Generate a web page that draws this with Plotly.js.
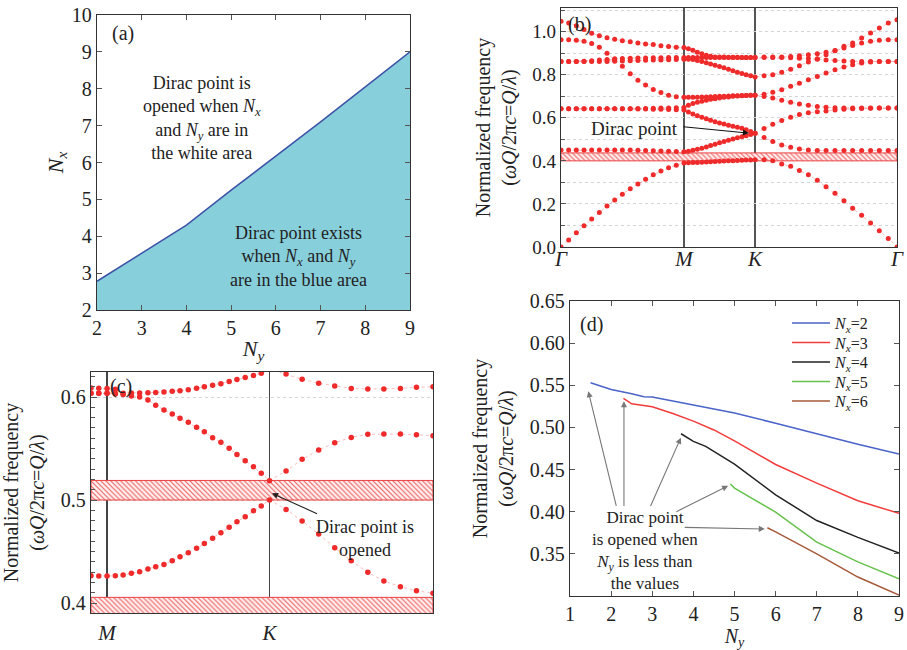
<!DOCTYPE html>
<html><head><meta charset="utf-8">
<script src="https://cdn.plot.ly/plotly-3.0.1.min.js"></script>
<style>html,body{margin:0;padding:0;background:#fff}#chart{width:907px;height:650px}</style>
</head><body><div id="chart"></div>
<script>
// ---------- (a) phase boundary ----------
const nyA = [2, 3, 4, 5, 6, 7, 8, 9];
const nxA = [2.78, 3.55, 4.3, 5.25, 6.17, 7.1, 8.05, 9.0];

// ---------- (b) band structure along Γ-M-K-Γ ----------
const kPath = [0, 0.036, 0.072, 0.108, 0.144, 0.180, 0.216, 0.252, 0.288, 0.325, 0.361, 0.397, 0.433, 0.469, 0.505, 0.541, 0.577,
  0.598, 0.619, 0.640, 0.661, 0.682, 0.702, 0.723, 0.744, 0.765, 0.786, 0.807, 0.828, 0.849, 0.869, 0.890, 0.911,
  0.953, 0.994, 1.036, 1.078, 1.119, 1.161, 1.203, 1.244, 1.286, 1.328, 1.369, 1.411, 1.453, 1.494, 1.536, 1.577];
const symK = [0, 0.577, 0.911, 1.577];
const symLabels = ['<i>Γ</i>', '<i>M</i>', '<i>K</i>', '<i>Γ</i>'];

const band1 = [0, 0.033, 0.066, 0.099, 0.13, 0.16, 0.19, 0.218, 0.245, 0.27, 0.293, 0.315, 0.335, 0.353, 0.368, 0.38, 0.39,
  0.391, 0.392, 0.393, 0.394, 0.395, 0.396, 0.397, 0.398, 0.399, 0.40, 0.401, 0.402, 0.403, 0.404, 0.404, 0.405,
  0.405, 0.40, 0.385, 0.375, 0.355, 0.335, 0.31, 0.28, 0.25, 0.215, 0.18, 0.147, 0.112, 0.076, 0.04, 0.0];
const band2 = [0.45, 0.45, 0.45, 0.45, 0.45, 0.45, 0.45, 0.45, 0.45, 0.45, 0.449, 0.448, 0.447, 0.446, 0.445, 0.443, 0.442,
  0.445, 0.449, 0.454, 0.459, 0.465, 0.471, 0.477, 0.484, 0.49, 0.496, 0.502, 0.507, 0.512, 0.517, 0.523, 0.528,
  0.508, 0.49, 0.474, 0.463, 0.455, 0.45, 0.448, 0.448, 0.448, 0.448, 0.448, 0.448, 0.448, 0.448, 0.448, 0.448];
const band3 = [0.642, 0.642, 0.642, 0.642, 0.642, 0.642, 0.642, 0.642, 0.642, 0.642, 0.641, 0.641, 0.640, 0.640, 0.639, 0.638, 0.636,
  0.627, 0.618, 0.61, 0.603, 0.596, 0.589, 0.582, 0.576, 0.571, 0.566, 0.561, 0.556, 0.551, 0.545, 0.537, 0.528,
  0.55, 0.57, 0.588, 0.603, 0.615, 0.623, 0.628, 0.632, 0.636, 0.64, 0.642, 0.643, 0.644, 0.645, 0.645, 0.645];
const band4 = [0.642, 0.642, 0.642, 0.642, 0.642, 0.642, 0.642, 0.642, 0.642, 0.642, 0.643, 0.643, 0.644, 0.645, 0.646, 0.647, 0.648,
  0.658, 0.666, 0.672, 0.677, 0.682, 0.686, 0.689, 0.692, 0.695, 0.697, 0.70, 0.701, 0.703, 0.704, 0.705, 0.705,
  0.699, 0.692, 0.681, 0.672, 0.664, 0.658, 0.653, 0.649, 0.647, 0.646, 0.645, 0.645, 0.645, 0.645, 0.645, 0.645];
const band5 = [0.963, 0.963, 0.96, 0.955, 0.945, 0.928, 0.90, 0.87, 0.84, 0.805, 0.775, 0.752, 0.732, 0.717, 0.705, 0.698, 0.695,
  0.695, 0.696, 0.696, 0.697, 0.697, 0.698, 0.699, 0.70, 0.70, 0.701, 0.702, 0.703, 0.704, 0.704, 0.705, 0.705,
  0.71, 0.719, 0.73, 0.746, 0.761, 0.777, 0.792, 0.808, 0.823, 0.836, 0.847, 0.854, 0.859, 0.862, 0.862, 0.862];
const band6 = [0.862, 0.862, 0.862, 0.862, 0.862, 0.862, 0.862, 0.863, 0.864, 0.865, 0.866, 0.867, 0.868, 0.869, 0.87, 0.871, 0.872,
  0.872, 0.871, 0.866, 0.861, 0.856, 0.85, 0.844, 0.838, 0.832, 0.825, 0.818, 0.812, 0.806, 0.80, 0.795, 0.79,
  0.795, 0.80, 0.812, 0.826, 0.842, 0.859, 0.874, 0.893, 0.913, 0.932, 0.947, 0.971, 0.994, 1.017, 1.04, 1.055];
const band7 = [0.862, 0.862, 0.862, 0.863, 0.865, 0.868, 0.871, 0.874, 0.876, 0.877, 0.878, 0.878, 0.879, 0.879, 0.88, 0.88, 0.88,
  0.88, 0.88, 0.88, 0.88, 0.88, 0.88, 0.88, 0.88, 0.88, 0.88, 0.88, 0.88, 0.88, 0.88, 0.88, 0.88,
  0.88, 0.88, 0.88, 0.879, 0.877, 0.875, 0.872, 0.869, 0.866, 0.864, 0.862, 0.862, 0.862, 0.862, 0.862, 0.862];
const band8 = [1.048, 1.04, 1.028, 1.01, 0.993, 0.981, 0.972, 0.965, 0.958, 0.953, 0.948, 0.943, 0.94, 0.935, 0.931, 0.928, 0.926,
  0.921, 0.914, 0.905, 0.897, 0.891, 0.886, 0.883, 0.882, 0.882, 0.881, 0.881, 0.881, 0.88, 0.88, 0.88, 0.88,
  0.882, 0.882, 0.882, 0.885, 0.888, 0.893, 0.898, 0.904, 0.911, 0.924, 0.936, 0.947, 0.955, 0.96, 0.963, 0.963];
const gapB = [0.40, 0.437];

// ---------- (c) zoom near K with opened Dirac point ----------
const kC = [0.544, 0.560, 0.577, 0.594, 0.610, 0.627, 0.644, 0.661, 0.677, 0.694, 0.711, 0.727, 0.744, 0.761, 0.777, 0.794,
  0.811, 0.828, 0.844, 0.861, 0.878, 0.894, 0.911, 0.945, 0.978, 1.012, 1.045, 1.079, 1.113, 1.146, 1.180, 1.213, 1.247];
const cLower = [0.4265, 0.4262, 0.4262, 0.4265, 0.4272, 0.4288, 0.4304, 0.433, 0.4353, 0.4375, 0.4411, 0.445, 0.4489, 0.4531,
  0.4579, 0.4628, 0.4683, 0.4735, 0.479, 0.4838, 0.4896, 0.4942, 0.50,
  0.4909, 0.4796, 0.467, 0.4537, 0.441, 0.4298, 0.4214, 0.4159, 0.412, 0.4094];
const cUpper = [0.6036, 0.6036, 0.6036, 0.603, 0.6025, 0.601, 0.600, 0.597, 0.592, 0.5874, 0.5835, 0.5793, 0.5754, 0.5706,
  0.5663, 0.5605, 0.556, 0.5502, 0.5443, 0.5382, 0.5324, 0.5259, 0.5188,
  0.5282, 0.5395, 0.5485, 0.5557, 0.5608, 0.5638, 0.5641, 0.5641, 0.5633, 0.5625];
const cTop = [0.6036, 0.6036, 0.6036, 0.6036, 0.6036, 0.6038, 0.604, 0.6042, 0.6045, 0.605, 0.6055, 0.606, 0.607, 0.6085,
  0.61, 0.6115, 0.613, 0.615, 0.617, 0.619, 0.621, 0.623, 0.627,
  0.6223, 0.6172, 0.6133, 0.6107, 0.6084, 0.6078, 0.6078, 0.6084, 0.6094, 0.61];
const kCSide = [0.544, 0.560, 0.577, 0.594];
const cSide = [0.6088, 0.6086, 0.6084, 0.6075];
const gapC1 = [0.50, 0.519];
const gapC2 = [0.385, 0.4055];

// ---------- (d) Dirac frequency vs Ny ----------
const seriesD = ['<i>N</i><sub><i>x</i></sub>=2', '<i>N</i><sub><i>x</i></sub>=3', '<i>N</i><sub><i>x</i></sub>=4',
  '<i>N</i><sub><i>x</i></sub>=5', '<i>N</i><sub><i>x</i></sub>=6'];
const nyNx2 = [1.5, 2, 2.5, 2.8, 3, 4, 5, 6, 7, 8, 9];
const fNx2 = [0.553, 0.545, 0.54, 0.5365, 0.536, 0.5265, 0.517, 0.505, 0.4925, 0.48, 0.4685];
const nyNx3 = [2.3, 2.5, 3, 3.5, 4, 4.5, 5, 6, 7, 8, 9];
const fNx3 = [0.5345, 0.528, 0.5245, 0.5165, 0.5075, 0.497, 0.484, 0.456, 0.434, 0.413, 0.398];
const nyNx4 = [3.7, 4, 4.3, 5, 6, 7, 8, 9];
const fNx4 = [0.4925, 0.4835, 0.4775, 0.4565, 0.42, 0.3895, 0.3695, 0.351];
const nyNx5 = [4.9, 5, 6, 7, 8, 9];
const fNx5 = [0.433, 0.428, 0.3995, 0.364, 0.3405, 0.3205];
const nyNx6 = [5.8, 6, 7, 8, 9];
const fNx6 = [0.381, 0.376, 0.35, 0.3225, 0.301];
const colorsD = ['#4a63c8', '#f23c3c', '#222222', '#66c24c', '#a65a3a'];

// ---------- build ----------
const FONT = '"Liberation Serif", "DejaVu Serif", serif';
const RED = '#ee2a2a';
const xRangeB = [0, 1.577], xRangeC = [0.544, 1.247];
const traces = [];

traces.push({x: nyA, y: nxA, type: 'scatter', mode: 'lines', fill: 'tozeroy', fillcolor: '#88cfdc',
  line: {color: '#3c52a6', width: 1.5}, xaxis: 'x', yaxis: 'y', showlegend: false, hoverinfo: 'skip'});

function gapTrace(g, xr, xa, ya) {
  return {x: [xr[0], xr[1], xr[1], xr[0], xr[0]], y: [g[0], g[0], g[1], g[1], g[0]], type: 'scatter', mode: 'lines',
    fill: 'toself', fillcolor: '#fde3e3',
    fillpattern: {shape: '\\', fgcolor: '#ec5a5a', bgcolor: '#fff2f2', size: 3.5, solidity: 0.3},
    line: {color: '#ec4040', width: 1}, xaxis: xa, yaxis: ya, showlegend: false, hoverinfo: 'skip'};
}
traces.push(gapTrace(gapB, xRangeB, 'x2', 'y2'));
traces.push(gapTrace(gapC1, xRangeC, 'x3', 'y3'));
traces.push(gapTrace(gapC2, xRangeC, 'x3', 'y3'));

const dotLine = {color: 'rgba(240,90,90,0.4)', width: 1, dash: 'dot'};
[band1, band2, band3, band4, band5, band6, band7, band8].forEach(b => {
  traces.push({x: kPath, y: b, type: 'scatter', mode: 'lines+markers', marker: {color: RED, size: 5},
    line: dotLine, xaxis: 'x2', yaxis: 'y2', showlegend: false});
});
[[kC, cLower], [kC, cUpper], [kC, cTop], [kCSide, cSide]].forEach(p => {
  traces.push({x: p[0], y: p[1], type: 'scatter', mode: 'lines+markers', marker: {color: RED, size: 5.5},
    line: dotLine, xaxis: 'x3', yaxis: 'y3', showlegend: false});
});

const dX = [nyNx2, nyNx3, nyNx4, nyNx5, nyNx6], dY = [fNx2, fNx3, fNx4, fNx5, fNx6];
const legendY = [323, 342.5, 362, 381.5, 401];
const layoutLegends = {};
dX.forEach((xs, i) => {
  const key = i === 0 ? 'legend' : 'legend' + (i + 1);
  traces.push({x: xs, y: dY[i], type: 'scatter', mode: 'lines', name: seriesD[i],
    line: {color: colorsD[i], width: 1.5}, xaxis: 'x4', yaxis: 'y4', legend: key});
  layoutLegends[key] = {x: 787 / 907, y: 1 - legendY[i] / 650, xanchor: 'left', yanchor: 'middle',
    bgcolor: 'rgba(0,0,0,0)', borderwidth: 0, itemwidth: 38, font: {family: FONT, size: 16, color: '#222'}};
});

const axCommon = {showline: true, linecolor: '#333', linewidth: 1.3, mirror: true, zeroline: false, showgrid: false,
  tickfont: {family: FONT, size: 20, color: '#222'}, automargin: false, fixedrange: true};
const py = p => 1 - p / 650, px = p => p / 907;
const yTitle = 'Normalized frequency<br>(<i>ωQ</i>/2π<i>c</i>=<i>Q</i>/<i>λ</i>)';

const layout = Object.assign({
  width: 907, height: 650, margin: {l: 0, r: 0, t: 0, b: 0}, paper_bgcolor: '#fff', plot_bgcolor: '#fff',
  font: {family: FONT, color: '#222'}, showlegend: true,
  xaxis: Object.assign({}, axCommon, {domain: [px(97), px(410)], range: [2, 9], dtick: 1, anchor: 'y',
    ticks: 'inside', ticklen: 5, mirror: 'ticks', tickcolor: '#555',
    title: {text: '<i>N</i><sub><i>y</i></sub>', font: {family: FONT, size: 22}, standoff: 2}}),
  yaxis: Object.assign({}, axCommon, {domain: [py(310), py(15)], range: [2, 10], dtick: 1, anchor: 'x',
    ticks: 'inside', ticklen: 5, mirror: 'ticks', tickcolor: '#555',
    title: {text: '<i>N</i><sub><i>x</i></sub>', font: {family: FONT, size: 22}, standoff: 2}}),
  xaxis2: Object.assign({}, axCommon, {domain: [px(561), px(897)], range: xRangeB, anchor: 'y2',
    tickvals: symK, ticktext: symLabels, ticks: '', showgrid: true, gridcolor: '#555', gridwidth: 1.2,
    ticklabelstandoff: -8, tickfont: {family: FONT, size: 21, color: '#222'}}),
  yaxis2: Object.assign({}, axCommon, {domain: [py(247), py(8)], range: [0, 1.11], anchor: 'x2',
    tickvals: [0, 0.2, 0.4, 0.6, 0.8, 1.0], tickformat: '.1f', ticks: 'inside', ticklen: 5, tickcolor: '#555',
    showgrid: true, gridcolor: '#d4d4d4', griddash: 'dot', gridwidth: 1,
    minor: {dtick: 0.1, ticks: 'inside', ticklen: 4, tickcolor: '#555', showgrid: true, gridcolor: '#d4d4d4', griddash: 'dot'},
    tickfont: {family: FONT, size: 19, color: '#222'},
    title: {text: yTitle, font: {family: FONT, size: 20}, standoff: 10}}),
  xaxis3: Object.assign({}, axCommon, {domain: [px(91), px(433)], range: xRangeC, anchor: 'y3',
    tickvals: [0.577, 0.911], ticktext: ['<i>M</i>', '<i>K</i>'], ticks: '', showgrid: true, gridcolor: '#444', gridwidth: 1.2,
    tickfont: {family: FONT, size: 21, color: '#222'}}),
  yaxis3: Object.assign({}, axCommon, {domain: [py(613), py(372)], range: [0.3903, 0.6243], anchor: 'x3',
    tickvals: [0.4, 0.5, 0.6], tickformat: '.1f', ticks: 'inside', ticklen: 6, tickcolor: '#555',
    showgrid: true, gridcolor: '#d4d4d4', griddash: 'dot',
    minor: {dtick: 0.01, ticks: 'inside', ticklen: 4, tickcolor: '#555'},
    title: {text: yTitle, font: {family: FONT, size: 20}, standoff: 14}}),
  xaxis4: Object.assign({}, axCommon, {domain: [px(570), px(899)], range: [1, 9], dtick: 1, anchor: 'y4',
    ticks: 'inside', ticklen: 5, mirror: 'ticks', tickcolor: '#555',
    title: {text: '<i>N</i><sub><i>y</i></sub>', font: {family: FONT, size: 20}, standoff: 4}}),
  yaxis4: Object.assign({}, axCommon, {domain: [py(596), py(301)], range: [0.30, 0.65], anchor: 'x4',
    tickvals: [0.35, 0.4, 0.45, 0.5, 0.55, 0.6, 0.65], tickformat: '.2f', ticks: 'inside', ticklen: 5, mirror: 'ticks', tickcolor: '#555',
    title: {text: yTitle, font: {family: FONT, size: 20}, standoff: 10}}),
  annotations: []
}, layoutLegends);

const A = layout.annotations;
const tf = {family: FONT, size: 20, color: '#222'};
function note(xref, yref, x, y, arr, size) {
  A.push({xref, yref, x, y, text: arr.join('<br>'), showarrow: false, align: 'center',
    font: Object.assign({}, tf, {size: size}), xanchor: 'center', yanchor: 'middle'});
}
function arrow(xref, yref, x, y, ax, ay, color) {
  A.push({xref, yref, x, y, ax, ay, axref: xref, ayref: yref, text: '', showarrow: true, arrowhead: 2, arrowsize: 1.1,
    arrowwidth: 1.1, arrowcolor: color});
}
// panel labels
A.push({xref: 'x', yref: 'y', x: 2.59, y: 9.49, text: '(a)', showarrow: false, font: tf});
A.push({xref: 'x2', yref: 'y2', x: 0.085, y: 1.033, text: '(b)', showarrow: false, font: tf});
A.push({xref: 'x3', yref: 'y3', x: 0.606, y: 0.61, text: '(c)', showarrow: false, font: tf});
A.push({xref: 'x4', yref: 'y4', x: 1.526, y: 0.6226, text: '(d)', showarrow: false, font: tf});
// (a) texts
note('x', 'y', 4.35, 7.2, ['Dirac point is', 'opened when <i>N</i><sub><i>x</i></sub>',
  'and <i>N</i><sub><i>y</i></sub> are in', 'the white area'], 18);
note('x', 'y', 6.5, 3.45, ['Dirac point exists', 'when <i>N</i><sub><i>x</i></sub> and <i>N</i><sub><i>y</i></sub>',
  'are in the blue area'], 18);
// (b)
note('x2', 'y2', 0.343, 0.552, ['Dirac point'], 19);
arrow('x2', 'y2', 0.882, 0.529, 0.567, 0.5595, '#111');
// (c)
note('x3', 'y3', 1.108, 0.4625, ['Dirac point is', 'opened'], 18);
arrow('x3', 'y3', 0.916, 0.5065, 1.0117, 0.4861, '#222');
// (d)
note('x4', 'y4', 2.82, 0.3535, ['Dirac point', 'is opened when', '<i>N</i><sub><i>y</i></sub> is less than', 'the values'], 17);
arrow('x4', 'y4', 1.445, 0.5429, 2.134, 0.4051, '#777');
arrow('x4', 'y4', 2.312, 0.5311, 2.312, 0.4051, '#777');
arrow('x4', 'y4', 3.696, 0.4878, 2.943, 0.405, '#777');
arrow('x4', 'y4', 4.846, 0.4307, 3.55, 0.3992, '#777');
arrow('x4', 'y4', 5.737, 0.3795, 3.753, 0.3815, '#777');

Plotly.newPlot('chart', traces, layout, {staticPlot: true, displayModeBar: false});
</script></body></html>
